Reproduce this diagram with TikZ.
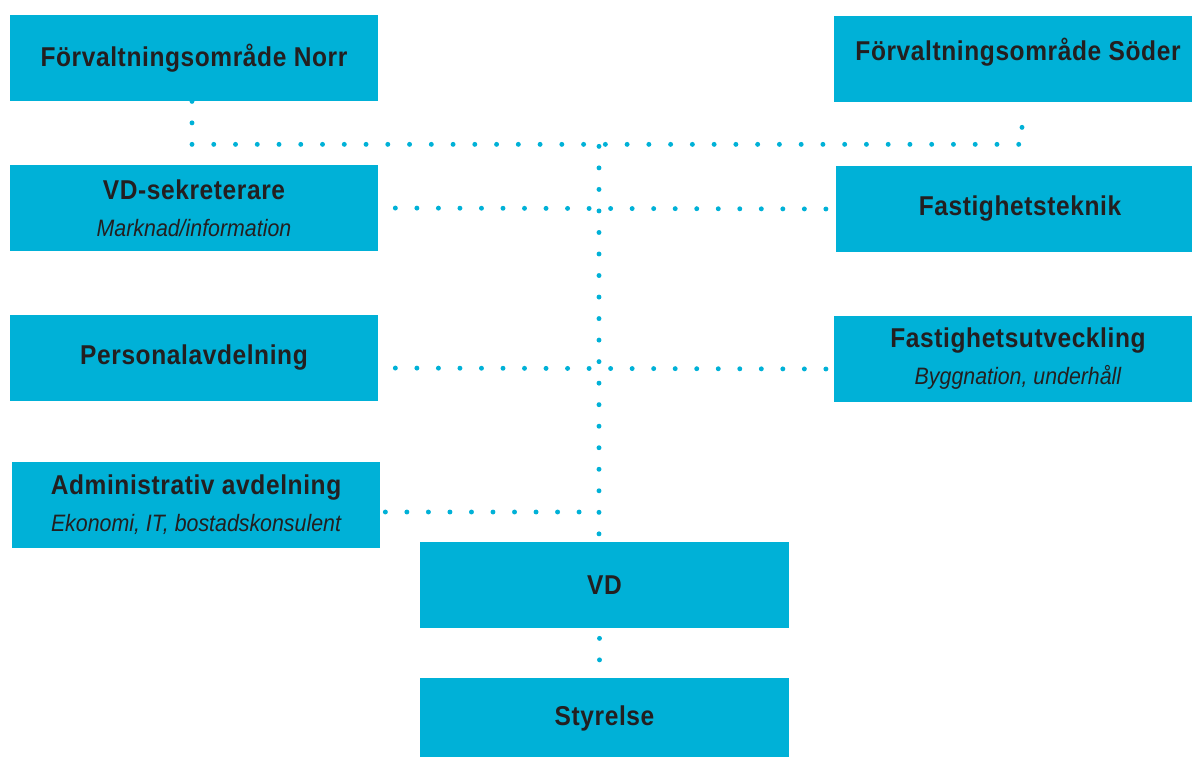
\documentclass[tikz,border=0pt]{standalone}
\usepackage{fontspec}
\setmainfont[FakeStretch=0.9, BoldFeatures={LetterSpace=2.2}]{Liberation Sans}
\usepackage{tikz}
\usetikzlibrary{calc, positioning}

\definecolor{boxblue}{HTML}{00B1D7}
\definecolor{boxtext}{HTML}{231F20}

\begin{document}
\begin{tikzpicture}[auto, node distance=3cm]

    % Define styles
    \tikzstyle{unit} = [rectangle, minimum width=7.36cm, minimum height=1.72cm, text centered, align=center, fill=boxblue, text=boxtext, font=\fontsize{15.5}{18}\selectfont\bfseries, inner sep=0pt]
    \tikzstyle{dotline} = [draw=boxblue, line width=2.8pt, line cap=round, dash pattern=on 0pt off 12.25pt]
    \newcommand{\subline}[1]{{\fontsize{13.5}{16}\selectfont\mdseries\itshape #1}}

    \useasboundingbox (0,0) rectangle (23.84,-15.12);

    % Nodes
    \node (norr) [unit] at (3.88,-1.16) {F\"orvaltningsomr\aa de Norr};
    \node (sekr) [unit, below of=norr] {VD-sekreterare\\[3pt]\subline{Marknad/information}};
    \node (personal) [unit, below of=sekr] {Personalavdelning};
    \node (admin) [unit, below of=personal, xshift=0.04cm, yshift=0.06cm] {Administrativ avdelning\\[3pt]\subline{Ekonomi, IT, bostadskonsulent}};
    \node (soder) [unit, right of=norr, xshift=13.48cm, yshift=-0.02cm, text depth=0.4cm] {F\"orvaltningsomr\aa de S\"oder};
    \node (teknik) [unit, below of=soder, xshift=0.04cm] {Fastighetsteknik};
    \node (utveckling) [unit, below of=teknik, xshift=-0.04cm] {Fastighetsutveckling\\[3pt]\subline{Byggnation, underh\aa ll}};
    \node (vd) [unit, below of=admin, xshift=8.17cm, yshift=1.4cm, minimum width=7.38cm] {VD};
    \node (styrelse) [unit, below of=vd, yshift=0.28cm, minimum width=7.38cm, text depth=0.2cm] {Styrelse};
    \coordinate (bus) at ($(norr.south)+(8.1,-0.9)$);
    \coordinate (nw) at ($(norr.south)+(-0.04,-0.86)$);
    \coordinate (ne) at ($(nw)+(16.6,0)$);

    % Dotted lines
    \draw [dotline] ([xshift=-0.04cm]norr.south) -- (nw);
    \draw [dotline, dash pattern=on 0pt off 12.38pt] (nw) -- (ne);
    \draw [dotline] ([yshift=-0.5cm]soder.south -| ne) -- (ne);
    \draw [dotline, shorten >=0.12cm] (bus) -- (bus |- vd.north);
    \draw [dotline, shorten <=0.34cm, shorten >=0.16cm] (sekr.east) -- (teknik.west);
    \draw [dotline, shorten <=0.34cm, shorten >=0.12cm] ([yshift=-0.2cm]personal.east) -- ([yshift=-0.2cm]utveckling.west);
    \draw [dotline, shorten <=0.1cm] ([yshift=-0.14cm]admin.east) -- ([yshift=-0.14cm]admin.east -| bus);
    \draw [dotline, shorten <=0.2cm, shorten >=0.3cm] ([xshift=-0.1cm]vd.south) -- ([xshift=-0.1cm]styrelse.north);

\end{tikzpicture}
\end{document}
